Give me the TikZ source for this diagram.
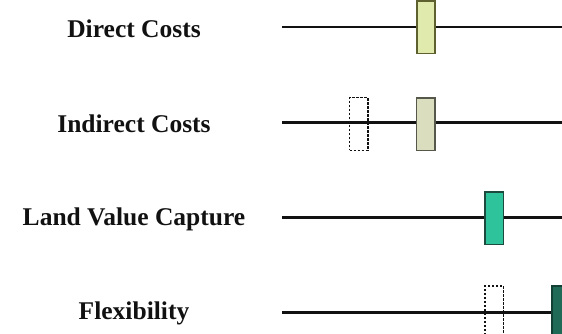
\documentclass[tikz,border=0pt]{standalone}
\usepackage{fontspec}
\setmainfont{Liberation Serif}
\usetikzlibrary{positioning}
\definecolor{ink}{HTML}{111111}
\definecolor{lime}{HTML}{E1EAAD}
\definecolor{limeedge}{HTML}{5E6030}
\definecolor{sage}{HTML}{DADDBE}
\definecolor{sageedge}{HTML}{55584A}
\definecolor{jade}{HTML}{2EC39A}
\definecolor{jadeedge}{HTML}{1D4A3E}
\definecolor{pine}{HTML}{1F6B58}
\tikzset{lbl/.style={font=\fontsize{25.6}{30}\selectfont\bfseries,text=ink,anchor=base,inner sep=0pt},rail/.style={line width=2.5bp,draw=ink},bar/.style={minimum width=18.3bp,minimum height=52.5bp,inner sep=0pt,line width=1.5bp},ghost/.style={bar,draw=ink,line width=1.4bp,dash pattern=on 2.4bp off 1.6bp}}

\begin{document}
\begin{tikzpicture}[x=1bp,y=-1bp]
\useasboundingbox (0,0) rectangle (562,333);
\clip (0,0) rectangle (562,333);
% labels
\node[lbl] (direct) at (134,37.3) {Direct Costs};
\node[lbl] (indirect) at (134,132.3) {Indirect Costs};
\node[lbl] (capture) at (134,225) {Land Value Capture};
\node[lbl] (flex) at (134,319) {Flexibility};
% rails
\coordinate (r1a) at (282,27); \coordinate (r1b) at (562,27);
\coordinate (r2a) at (282,122.7); \coordinate (r2b) at (562,122.7);
\coordinate (r3a) at (282,217.3); \coordinate (r3b) at (562,217.3);
\coordinate (r4a) at (282,312.3); \coordinate (r4b) at (562,312.3);
\draw[rail] (r1a)--(r1b);
\draw[rail] (r2a)--(r2b);
\draw[rail] (r3a)--(r3b);
\draw[rail] (r4a)--(r4b);
% markers
\node[bar,fill=lime,draw=limeedge] (m1) at (426,27) {};
\node[ghost] (g2) at (358.8,124) {};
\node[bar,fill=sage,draw=sageedge] (m2) at (425.8,124) {};
\node[bar,fill=jade,draw=jadeedge] (m3) at (494.2,218) {};
\node[ghost] (g4) at (494.2,312.3) {};
\node[bar,fill=pine,draw=pine!60!black] (m4) at (561,312.3) {};
\end{tikzpicture}
\end{document}
